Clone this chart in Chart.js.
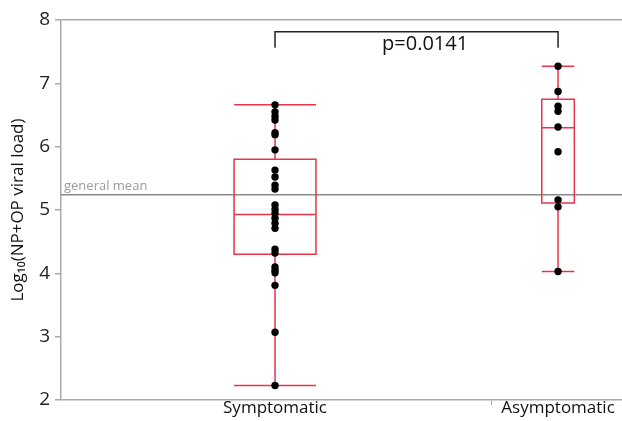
<!DOCTYPE html>
<html>
<head>
<meta charset="utf-8">
<script src="https://cdn.jsdelivr.net/npm/chart.js@4"></script>
<style>
  html, body { margin: 0; padding: 0; background: #fff; }
  #wrap { width: 622px; height: 421px; }
</style>
</head>
<body>
<div id="wrap"><canvas id="chart"></canvas></div>
<script>
// values
var categories = ["Symptomatic", "Asymptomatic"];
var symptomatic = [6.66, 6.55, 6.48, 6.42, 6.22, 6.19, 5.95, 5.63, 5.52, 5.39, 5.33,
  5.08, 5.01, 4.95, 4.87, 4.79, 4.71, 4.38, 4.32, 4.10, 4.05, 4.01, 3.81, 3.07, 2.23];
var asymptomatic = [7.27, 6.87, 6.64, 6.56, 6.31, 5.92, 5.16, 5.05, 4.03];
// [lower whisker, q1, median, q3, upper whisker]
var boxSymptomatic = [2.23, 4.30, 4.93, 5.80, 6.66];
var boxAsymptomatic = [4.03, 5.11, 6.30, 6.75, 7.27];
var generalMean = 5.24;
var pValueLabel = "p=0.0141";
var yTicks = [2, 3, 4, 5, 6, 7, 8];

(function () {
  var FONT = '"Open Sans", "DejaVu Sans", sans-serif';
  var RED = "#e8354b";

  // x axis is 0..1, groups take proportional widths
  var centers = [0.3815, 0.886];
  var boundary = 0.768;
  var halfWidths = [0.073, 0.029];
  var boxes = [boxSymptomatic, boxAsymptomatic];

  var boxPlugin = {
    id: "boxes",
    beforeDatasetsDraw: function (chart) {
      var ctx = chart.ctx;
      var xs = chart.scales.x;
      var ys = chart.scales.y;
      var area = chart.chartArea;

      ctx.save();
      // general mean line
      var ym = ys.getPixelForValue(generalMean);
      ctx.strokeStyle = "#8a8a8a";
      ctx.lineWidth = 1.5;
      ctx.beginPath();
      ctx.moveTo(area.left, ym);
      ctx.lineTo(area.right, ym);
      ctx.stroke();
      ctx.fillStyle = "#9a9a9a";
      ctx.font = "13px " + FONT;
      ctx.textAlign = "left";
      ctx.textBaseline = "alphabetic";
      ctx.fillText("general mean", area.left + 3, ym - 5);

      // boxes + whiskers
      ctx.strokeStyle = RED;
      ctx.lineWidth = 1.5;
      boxes.forEach(function (b, i) {
        var xl = xs.getPixelForValue(centers[i] - halfWidths[i]);
        var xr = xs.getPixelForValue(centers[i] + halfWidths[i]);
        var xc = xs.getPixelForValue(centers[i]);
        var yLo = ys.getPixelForValue(b[0]);
        var yQ1 = ys.getPixelForValue(b[1]);
        var yMed = ys.getPixelForValue(b[2]);
        var yQ3 = ys.getPixelForValue(b[3]);
        var yHi = ys.getPixelForValue(b[4]);
        ctx.beginPath();
        ctx.rect(xl, yQ3, xr - xl, yQ1 - yQ3);
        ctx.moveTo(xl, yMed); ctx.lineTo(xr, yMed);
        ctx.moveTo(xc, yQ3); ctx.lineTo(xc, yHi);
        ctx.moveTo(xc, yQ1); ctx.lineTo(xc, yLo);
        ctx.moveTo(xl, yHi); ctx.lineTo(xr, yHi);
        ctx.moveTo(xl, yLo); ctx.lineTo(xr, yLo);
        ctx.stroke();
      });
      ctx.restore();
    },
    afterDraw: function (chart) {
      var ctx = chart.ctx;
      var xs = chart.scales.x;
      var ys = chart.scales.y;
      var x1 = xs.getPixelForValue(centers[0]);
      var x2 = xs.getPixelForValue(centers[1]);
      var yTop = ys.getPixelForValue(7.815);
      var yFoot = ys.getPixelForValue(7.56);
      ctx.save();
      ctx.strokeStyle = "#222";
      ctx.lineWidth = 1.5;
      ctx.beginPath();
      ctx.moveTo(x1, yFoot);
      ctx.lineTo(x1, yTop);
      ctx.lineTo(x2, yTop);
      ctx.lineTo(x2, yFoot);
      ctx.stroke();
      ctx.fillStyle = "#111";
      ctx.font = "20px " + FONT;
      ctx.textAlign = "center";
      ctx.textBaseline = "alphabetic";
      ctx.fillText(pValueLabel, xs.getPixelForValue(0.649), ys.getPixelForValue(7.53));
      ctx.restore();
    }
  };

  function pts(values, cx) {
    return values.map(function (v) { return { x: cx, y: v }; });
  }

  new Chart(document.getElementById("chart"), {
    type: "scatter",
    data: {
      datasets: [
        { label: categories[0], data: pts(symptomatic, centers[0]), clip: false },
        { label: categories[1], data: pts(asymptomatic, centers[1]), clip: false }
      ]
    },
    options: {
      responsive: true,
      maintainAspectRatio: false,
      animation: false,
      layout: { autoPadding: false, padding: { top: 20, right: 0, left: 0, bottom: 0 } },
      elements: {
        point: { radius: 3.7, backgroundColor: "#000", borderWidth: 0, hoverRadius: 3.7 }
      },
      plugins: { legend: { display: false }, tooltip: { enabled: false } },
      scales: {
        x: {
          type: "linear",
          min: 0,
          max: 1,
          afterBuildTicks: function (axis) {
            axis.ticks = [{ value: centers[0] }, { value: boundary }, { value: centers[1] }];
          },
          afterFit: function (axis) {
            axis.height = 21;
            axis.paddingLeft = 0;
            axis.paddingRight = 0;
          },
          border: { color: "#aaa", width: 1.5 },
          grid: {
            drawOnChartArea: false,
            tickLength: 5,
            lineWidth: 1,
            color: function (c) { return c.index === 1 ? "#aaa" : "rgba(0,0,0,0)"; }
          },
          ticks: {
            autoSkip: false,
            maxRotation: 0,
            padding: -7,
            color: "#111",
            font: { family: FONT, size: 17 },
            callback: function (v, i) {
              if (i === 0) return categories[0];
              if (i === 2) return categories[1];
              return "";
            }
          }
        },
        y: {
          min: 2,
          max: 8,
          afterBuildTicks: function (axis) {
            axis.ticks = yTicks.map(function (v) { return { value: v }; });
          },
          afterFit: function (axis) { axis.width = 61; },
          border: { color: "#aaa", width: 1.5 },
          grid: {
            drawOnChartArea: true,
            tickLength: 6,
            lineWidth: 1.5,
            tickColor: "#aaa",
            color: function (c) { return c.tick && c.tick.value === 8 ? "#aaa" : "rgba(0,0,0,0)"; }
          },
          ticks: {
            padding: 5,
            color: "#222",
            font: { family: FONT, size: 19 }
          },
          title: {
            display: true,
            text: "Log\u2081\u2080(NP+OP viral load)",
            color: "#111",
            padding: { top: 8, bottom: 0 },
            font: { family: FONT, size: 17 }
          }
        }
      }
    },
    plugins: [boxPlugin]
  });
})();
</script>
</body>
</html>
